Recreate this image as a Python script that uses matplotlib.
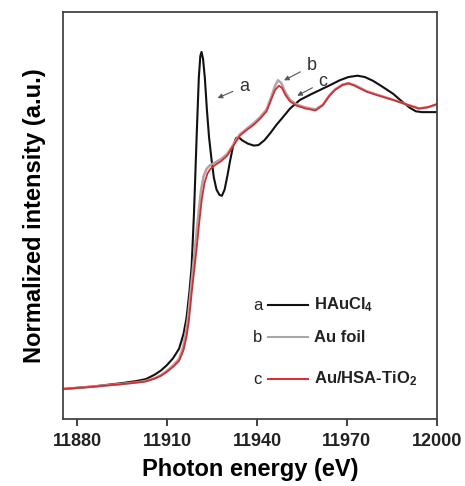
import numpy as np
import matplotlib
matplotlib.use('Agg')
import matplotlib.pyplot as plt

plt.rcParams['font.family'] = ['Liberation Sans', 'DejaVu Sans']
plt.rcParams['mathtext.fontset'] = 'custom'
plt.rcParams['mathtext.rm'] = 'Liberation Sans:bold'
plt.rcParams['mathtext.default'] = 'rm'

# HAuCl4 (a)
e_a = [11875.3, 11885, 11895, 11900, 11903, 11906, 11908, 11910, 11912, 11914,
       11915.5, 11916.5, 11917.5, 11918.2, 11919, 11919.9, 11920.6, 11921.1, 11921.5, 11922,
       11922.6, 11923.3, 11924, 11924.8, 11925.6, 11926.5, 11927.5, 11928.3, 11929.2, 11930.2,
       11931, 11932, 11933, 11933.8, 11935, 11937, 11939, 11940.5, 11942.5, 11944.5,
       11946.5, 11948.7, 11951, 11954.3, 11958, 11961, 11964, 11967.6, 11970.5, 11973.5,
       11976, 11978.7, 11982, 11985.4, 11988.5, 11991, 11993, 11995, 12000]
y_a = [-0.004, 0.005, 0.018, 0.026, 0.033, 0.05, 0.065, 0.085, 0.11, 0.145,
       0.2, 0.26, 0.36, 0.45, 0.65, 0.94, 1.15, 1.23, 1.245, 1.22,
       1.15, 1.03, 0.93, 0.85, 0.78, 0.735, 0.715, 0.712, 0.735, 0.79,
       0.84, 0.895, 0.925, 0.93, 0.918, 0.905, 0.898, 0.9, 0.918, 0.945,
       0.975, 1.004, 1.035, 1.067, 1.088, 1.104, 1.12, 1.14, 1.152, 1.157,
       1.152, 1.138, 1.115, 1.09, 1.06, 1.038, 1.025, 1.022, 1.022]

# Au foil (b)
e_b = [11875.3, 11885, 11895, 11900, 11903, 11906, 11908, 11910, 11912, 11914,
       11915.3, 11916.2, 11917, 11917.9, 11918.7, 11919.6, 11920.5, 11921.3, 11922.2, 11923.2,
       11924.3, 11926, 11928, 11930, 11932, 11934.3, 11936.5, 11938.8, 11941, 11943.2,
       11944.8, 11946, 11947, 11948.1, 11949.5, 11951, 11953.2, 11956, 11959.5, 11962,
       11964, 11966, 11968.5, 11970.5, 11972.5, 11976.5, 11980, 11985.4, 11990, 11994,
       11997, 12000]
y_b = [-0.004, 0.005, 0.015, 0.021, 0.026, 0.037, 0.048, 0.064, 0.083, 0.108,
       0.15, 0.2, 0.26, 0.36, 0.45, 0.55, 0.65, 0.73, 0.785, 0.812,
       0.825, 0.835, 0.848, 0.866, 0.9, 0.94, 0.96, 0.98, 1.003, 1.032,
       1.08, 1.118, 1.14, 1.13, 1.095, 1.068, 1.05, 1.04, 1.032, 1.05,
       1.082, 1.106, 1.124, 1.13, 1.123, 1.1, 1.087, 1.068, 1.05, 1.036,
       1.04, 1.05]

# Au/HSA-TiO2 (c)
e_c = [11875.3, 11885, 11895, 11900, 11903, 11906, 11908, 11910, 11912, 11914,
       11915.5, 11916.5, 11917.3, 11918.2, 11919, 11919.9, 11920.8, 11921.6, 11922.5, 11923.5,
       11924.5, 11926, 11928, 11930, 11932, 11934.3, 11936.5, 11938.8, 11941, 11943.2,
       11944.8, 11946, 11947.3, 11948.3, 11949.5, 11951, 11953.2, 11956, 11959.5, 11962,
       11964, 11966, 11968.5, 11970.5, 11972.5, 11976.5, 11980, 11985.4, 11990, 11994,
       11997, 12000]
y_c = [-0.004, 0.004, 0.014, 0.02, 0.024, 0.035, 0.045, 0.06, 0.078, 0.1,
       0.14, 0.19, 0.25, 0.35, 0.43, 0.52, 0.62, 0.7, 0.76, 0.795,
       0.812, 0.826, 0.84, 0.86, 0.895, 0.935, 0.955, 0.974, 0.997, 1.025,
       1.07, 1.103, 1.12, 1.112, 1.085, 1.062, 1.046, 1.036, 1.028, 1.048,
       1.08, 1.104, 1.122, 1.128, 1.12, 1.098, 1.085, 1.067, 1.05, 1.035,
       1.04, 1.052]

letters = ['a', 'b', 'c']
names = ['HAuCl$_4$', 'Au foil', 'Au/HSA-TiO$_2$']
colors = ['#111111', '#a8a8a8', '#e0282e']

fig = plt.figure(figsize=(4.65, 4.86), dpi=100)
ax = fig.add_axes([0.1355, 0.1379, 0.804, 0.8374])

ax.plot(e_a, y_a, color=colors[0], lw=1.5)
ax.plot(e_b, y_b, color=colors[1], lw=1.8)
ax.plot(e_c, y_c, color=colors[2], lw=1.3)

ax.set_xlim(11875.3, 12000)
ax.set_ylim(-0.115, 1.393)
ax.set_xticks([11880, 11910, 11940, 11970, 12000])
ax.set_yticks([])
ax.tick_params(axis='x', direction='out', length=5, width=1.2, pad=5,
               labelsize=13, colors='#222222')
for lab in ax.get_xticklabels():
    lab.set_fontweight('bold')
for sp in ax.spines.values():
    sp.set_linewidth(1.3)
    sp.set_color('#444444')

ax.set_xlabel('Photon energy (eV)', fontsize=17, fontweight='bold', labelpad=6)
ax.set_ylabel('Normalized intensity (a.u.)', fontsize=17, fontweight='bold', labelpad=12)

# annotations with arrows
arr = dict(arrowstyle='-|>', color='#555555', lw=0.8, mutation_scale=7)
ax.annotate('', xy=(11926, 1.07), xytext=(11932.8, 1.103), arrowprops=arr)
ax.text(11934.2, 1.118, 'a', fontsize=13, color='#333333', va='center')
ax.annotate('', xy=(11948.2, 1.135), xytext=(11955.3, 1.176), arrowprops=arr)
ax.text(11956.6, 1.195, 'b', fontsize=13, color='#333333', va='center')
ax.annotate('', xy=(11952.6, 1.078), xytext=(11959.3, 1.117), arrowprops=arr)
ax.text(11960.5, 1.135, 'c', fontsize=13, color='#333333', va='center')

# legend key
leg_y = [0.280, 0.201, 0.098]
for i in range(3):
    ax.text(0.521, leg_y[i], letters[i], transform=ax.transAxes, fontsize=12,
            color='#222222', va='center', ha='center')
    ax.plot([0.548, 0.655], [leg_y[i], leg_y[i]], transform=ax.transAxes,
            color=colors[i], lw=1.5 if i != 2 else 1.4)
    ax.text(0.672, leg_y[i], names[i], transform=ax.transAxes, fontsize=12,
            fontweight='bold', color='#222222', va='center', ha='left')

fig.savefig('out.png', dpi=100)
